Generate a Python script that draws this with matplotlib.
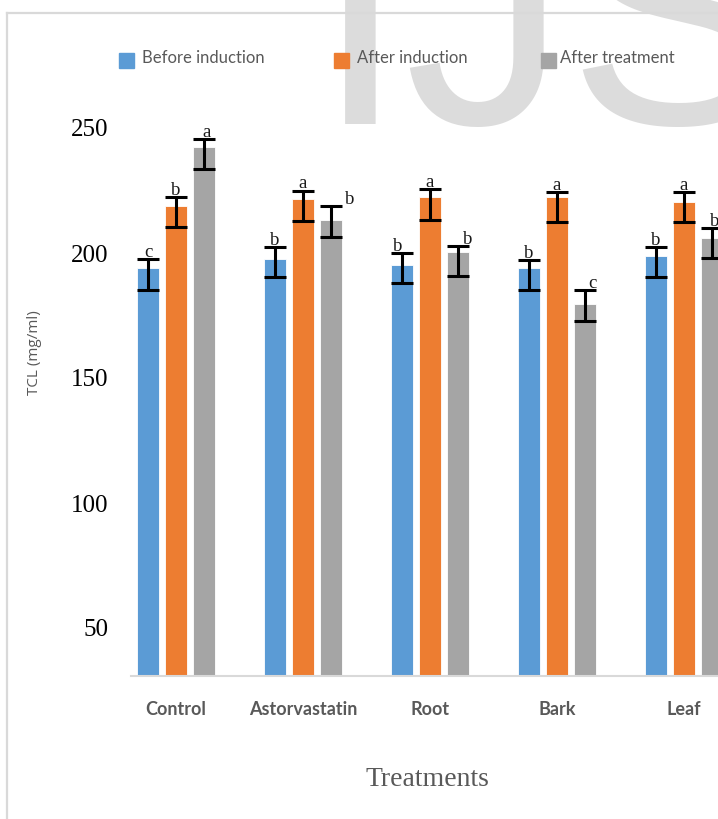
import numpy as np
import matplotlib
matplotlib.use("Agg")
import matplotlib.pyplot as plt
from matplotlib.lines import Line2D

#values
treatments = ["Control", "Astorvastatin", "Root", "Bark", "Leaf"]
series_names = ["Before induction", "After induction", "After treatment"]

before = [194.1, 197.7, 195.1, 194.1, 198.7]
before_hi = [197.5, 202.5, 200.1, 197.2, 202.5]
before_lo = [185.2, 190.5, 187.9, 185.2, 190.3]
before_letters = ["c", "b", "b", "b", "b"]

after_ind = [218.8, 221.5, 222.4, 222.5, 220.5]
after_ind_hi = [222.3, 225.0, 225.5, 224.5, 224.5]
after_ind_lo = [210.3, 212.8, 213.2, 212.3, 212.3]
after_ind_letters = ["b", "a", "a", "a", "a"]

after_trt = [242.3, 213.1, 200.4, 179.5, 205.9]
after_trt_hi = [245.6, 218.8, 202.8, 185.2, 210.1]
after_trt_lo = [233.5, 206.5, 190.8, 172.8, 197.9]
after_trt_letters = ["a", "b", "b", "c", "b"]

y_ticks = [50, 100, 150, 200, 250]

colors = ["#5B9BD5", "#ED7D31", "#A5A5A5"]
txt_gray = "#595959"

W, H = 718, 819
fig = plt.figure(figsize=(W / 100, H / 100), dpi=100)

#watermark and frame
fig.text(315 / W, (H - 124) / H, "IJS", fontsize=235, family="Liberation Sans",
         color="#dcdcdc", va="baseline", ha="left", zorder=0)
fig.add_artist(Line2D([7 / W, 7 / W], [0, (H - 13) / H], color="#d9d9d9", lw=1.6))
fig.add_artist(Line2D([7 / W, 1], [(H - 13) / H, (H - 13) / H], color="#d9d9d9", lw=1.6))

#axes placed so that one category = 127 px and 50 units = 125 px
x_left, x_right = -0.354, 4.5
y_bot, y_top = 30.8, 260
ax_l = 131 / W
ax_w = (x_right - x_left) * 127 / W
ax_b = (H - 676) / H
ax_h = (y_top - y_bot) * 2.5 / H
ax = fig.add_axes([ax_l, ax_b, ax_w, ax_h])
ax.patch.set_alpha(0)

x = np.arange(len(treatments))
offs = [-0.22, 0.0, 0.22]
bw = 0.173

series = [
    (before, before_lo, before_hi, before_letters),
    (after_ind, after_ind_lo, after_ind_hi, after_ind_letters),
    (after_trt, after_trt_lo, after_trt_hi, after_trt_letters),
]

#small horizontal nudges (px) for letters, as in the original
nudge = {(0, 2): 3, (1, 2): 19, (2, 2): 10, (3, 2): 8, (4, 2): 3, (2, 0): -4}

for si, (vals, lo, hi, letters) in enumerate(series):
    xs = x + offs[si]
    ax.bar(xs, vals, width=bw, bottom=0, color=colors[si], edgecolor="white",
           linewidth=0.6, zorder=2)
    vals_a = np.array(vals)
    yerr = [vals_a - np.array(lo), np.array(hi) - vals_a]
    ax.errorbar(xs, vals, yerr=yerr, fmt="none", ecolor="black", elinewidth=2.2,
                capsize=8, capthick=2.2, zorder=3)
    for i, let in enumerate(letters):
        dx = nudge.get((i, si), 0) * 0.72
        ax.annotate(let, (xs[i], hi[i]), xytext=(dx, 1.5), textcoords="offset points",
                    ha="center", va="baseline", fontsize=13.5, family="Liberation Serif",
                    color="#1a1a1a", zorder=4)

ax.set_xlim(x_left, x_right)
ax.set_ylim(y_bot, y_top)
ax.set_yticks(y_ticks)
ax.set_yticklabels([str(v) for v in y_ticks], fontsize=18, family="Liberation Serif")
ax.tick_params(axis="y", length=0, pad=16)
ax.set_xticks(x)
ax.set_xticklabels(treatments, fontsize=13, family="Lato", fontweight="bold", color=txt_gray)
ax.tick_params(axis="x", length=0, pad=18)
for s in ["top", "right", "left"]:
    ax.spines[s].set_visible(False)
ax.spines["bottom"].set_color("#d9d9d9")
ax.spines["bottom"].set_linewidth(1.5)
ax.spines["bottom"].set_zorder(5)

#axis titles
fig.text(35 / W, (H - 353) / H, "TCL (mg/ml)", rotation=90, fontsize=11,
         family="Open Sans", color=txt_gray, ha="center", va="center")
fig.text(427 / W, (H - 780) / H, "Treatments", fontsize=20, family="Liberation Serif",
         color=txt_gray, ha="center", va="center")

#legend drawn in figure pixels to match the original spacing
leg_sq = [119, 334, 541]
leg_tx = [142, 357, 560]
for i, name in enumerate(series_names):
    fig.add_artist(plt.Rectangle((leg_sq[i] / W, (H - 68) / H), 15 / W, 15 / H,
                                 transform=fig.transFigure, color=colors[i]))
    fig.text(leg_tx[i] / W, (H - 58) / H, name, fontsize=12, family="Lato",
             color=txt_gray, ha="left", va="center")

fig.savefig("out.png", dpi=100)
